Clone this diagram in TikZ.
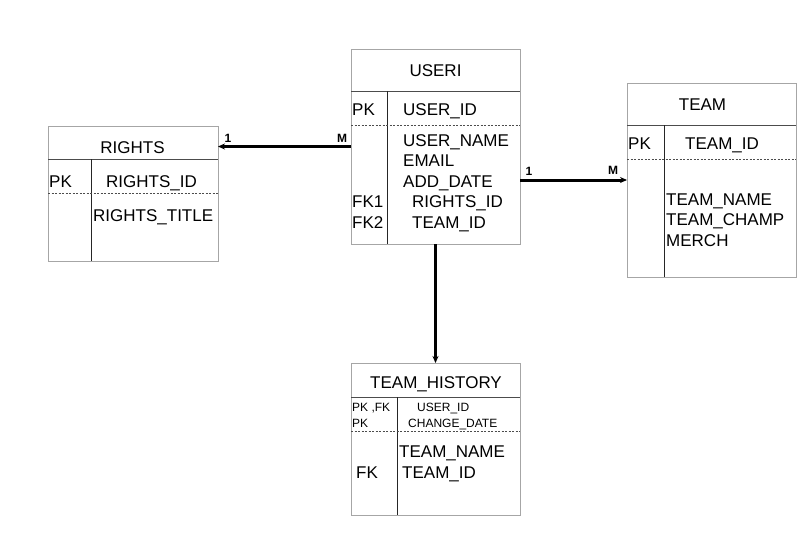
\documentclass[tikz,border=0pt]{standalone}
\usepackage{fontspec}
\setmainfont{Liberation Sans}
\usetikzlibrary{arrows,arrows.meta,shapes,positioning}
\newcommand{\myBorderColor}{black!35}
\newcommand{\myRuleColor}{black!70}

\begin{document}
\begin{tikzpicture}[x=1pt,y=-1pt,>={Stealth[length=7pt,width=6pt]},
	Table/.style={rectangle,draw=\myBorderColor,fill=white,line width=0.8pt,inner sep=0pt,outer sep=0pt},
	TitleRule/.style={\myRuleColor,line width=0.9pt},
	ColRule/.style={black!85,line width=0.9pt},
	KeyRule/.style={\myRuleColor,line width=0.8pt,dash pattern=on 2pt off 1.5pt},
	Title/.style={anchor=base,inner sep=0pt,font=\fontsize{17}{17}\selectfont},
	Field/.style={anchor=base west,inner sep=0pt,font=\fontsize{17}{17}\selectfont},
	SmallField/.style={anchor=base west,inner sep=0pt,font=\fontsize{12}{12}\selectfont},
	Card/.style={inner sep=0pt,font=\fontsize{12}{12}\selectfont\bfseries},
	Link/.style={->,black,line width=3pt},
]
	%\draw[help lines,step=20pt,gray!20] (0,0) grid (808,547);
	\useasboundingbox (0,0) rectangle (808,547);

	% USERI
	\node[Table,minimum width=169pt,minimum height=195pt] (useri) at (435.5,146.5) {};
	\draw[TitleRule] (351,91) -- (520,91);
	\draw[ColRule] (387,91) -- (387,244);
	\draw[KeyRule] (351,125) -- (520,125);
	\node[Title] (useriT) at (435.5,76) {USERI};
	\node[Field] (useriPK) at (352,115) {PK};
	\node[Field] (useriId) at (403,115) {USER\_ID};
	\node[Field] (useriName) at (403,146) {USER\_NAME};
	\node[Field] (useriMail) at (403,166) {EMAIL};
	\node[Field] (useriDate) at (403,187) {ADD\_DATE};
	\node[Field] (useriFKa) at (352,207) {FK1};
	\node[Field] (useriRights) at (412,207) {RIGHTS\_ID};
	\node[Field] (useriFKb) at (352,228) {FK2};
	\node[Field] (useriTeam) at (412,228) {TEAM\_ID};

	% RIGHTS
	\node[Table,minimum width=170pt,minimum height=135pt] (rights) at (133,193.5) {};
	\draw[TitleRule] (48,159) -- (218,159);
	\draw[ColRule] (91,159) -- (91,261);
	\draw[KeyRule] (48,193) -- (218,193);
	\node[Title] (rightsT) at (132.5,153) {RIGHTS};
	\node[Field] (rightsPK) at (49,187) {PK};
	\node[Field] (rightsId) at (106,187) {RIGHTS\_ID};
	\node[Field] (rightsTitle) at (93,221) {RIGHTS\_TITLE};

	% TEAM
	\node[Table,minimum width=169pt,minimum height=194pt] (team) at (711.5,180) {};
	\draw[TitleRule] (627,125) -- (796,125);
	\draw[ColRule] (664,125) -- (664,277);
	\draw[KeyRule] (627,159) -- (796,159);
	\node[Title] (teamT) at (702.5,110) {TEAM};
	\node[Field] (teamPK) at (628,149) {PK};
	\node[Field] (teamId) at (685,149) {TEAM\_ID};
	\node[Field] (teamName) at (666,205) {TEAM\_NAME};
	\node[Field] (teamChamp) at (666,225) {TEAM\_CHAMP};
	\node[Field] (teamMerch) at (666,246) {MERCH};

	% TEAM_HISTORY
	\node[Table,minimum width=169pt,minimum height=152pt] (hist) at (435.5,439) {};
	\draw[TitleRule] (351,397) -- (520,397);
	\draw[ColRule] (397,397) -- (397,515);
	\draw[KeyRule] (351,431) -- (520,431);
	\node[Title] (histT) at (436,388) {TEAM\_HISTORY};
	\node[SmallField] (histPKa) at (352,411) {PK ,FK};
	\node[SmallField] (histPKb) at (352,427) {PK};
	\node[SmallField] (histUser) at (417,411) {USER\_ID};
	\node[SmallField] (histDate) at (408,427) {CHANGE\_DATE};
	\node[Field] (histName) at (399,457) {TEAM\_NAME};
	\node[Field] (histFK) at (356,478) {FK};
	\node[Field] (histTeam) at (402,478) {TEAM\_ID};

	% relationships
	\draw[Link] (useri.west) -- (useri.west -| rights.east);
	\draw[Link] (useri.east |- team.west) -- (team.west);
	\draw[Link] (useri.south) -- (hist.north);

	\node[Card] (rightsOne) at (228,138) {1};
	\node[Card] (rightsMany) at (342,138) {M};
	\node[Card] (teamOne) at (529,171) {1};
	\node[Card] (teamMany) at (613,170) {M};
\end{tikzpicture}
\end{document}
